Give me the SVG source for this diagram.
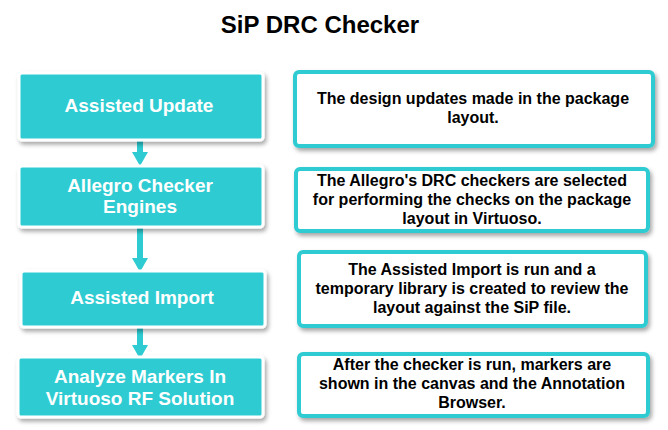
<svg xmlns="http://www.w3.org/2000/svg" width="668" height="430" viewBox="0 0 668 430">
<defs>
<filter id="sh" x="-10%" y="-20%" width="120%" height="150%">
<feDropShadow dx="2" dy="3" stdDeviation="2" flood-color="#000" flood-opacity="0.35"/>
</filter>
</defs>
<style>
.step{fill:#2ECCD2;stroke:#fff;stroke-width:3;filter:url(#sh)}
.desc{fill:#fff;stroke:#2ECCD2;stroke-width:4;filter:url(#sh)}
.st{font-family:"Liberation Sans",Arial,sans-serif;font-weight:bold;font-size:19px;fill:#fff;text-anchor:middle}
.dt{font-family:"Liberation Sans",Arial,sans-serif;font-weight:bold;font-size:16px;fill:#000;text-anchor:middle}
.title{font-family:"Liberation Sans",Arial,sans-serif;font-weight:bold;font-size:24px;fill:#000;text-anchor:middle}
.conn{stroke:#2ECCD2;stroke-width:6;fill:none}
.head{fill:#2ECCD2}
</style>
<rect width="668" height="430" fill="#fff"/>
<text class="title" x="320" y="33">SiP DRC Checker</text>
<g id="connectors">
<path class="conn" d="M140,140 V153"/>
<path class="head" d="M132,152 L148,152 L140,166 Z"/>
<path class="conn" d="M140,227 V259"/>
<path class="head" d="M132,258 L148,258 L140,272 Z"/>
<path class="conn" d="M140,327 V346"/>
<path class="head" d="M132,345 L148,345 L140,359 Z"/>
</g>
<g id="step1">
<rect class="step" x="19" y="73" width="244" height="67" rx="3"/>
<text class="st" x="139" y="112">Assisted Update</text>
</g>
<g id="step2">
<rect class="step" x="19" y="166" width="244" height="61" rx="3"/>
<text class="st" x="140" y="192">Allegro Checker</text>
<text class="st" x="140" y="213">Engines</text>
</g>
<g id="step3">
<rect class="step" x="21" y="271" width="244" height="56" rx="3"/>
<text class="st" x="142" y="304">Assisted Import</text>
</g>
<g id="step4">
<rect class="step" x="18" y="357" width="245" height="60" rx="3"/>
<text class="st" x="140" y="383">Analyze Markers In</text>
<text class="st" x="140" y="405">Virtuoso RF Solution</text>
</g>
<g id="desc1">
<rect class="desc" x="295" y="72" width="358" height="74" rx="4"/>
<text class="dt" x="473" y="104">The design updates made in the package</text>
<text class="dt" x="473" y="123">layout.</text>
</g>
<g id="desc2">
<rect class="desc" x="296" y="169" width="352" height="62" rx="4"/>
<text class="dt" x="472" y="186">The Allegro's DRC checkers are selected</text>
<text class="dt" x="472" y="205">for performing the checks on the package</text>
<text class="dt" x="472" y="224">layout in Virtuoso.</text>
</g>
<g id="desc3">
<rect class="desc" x="299" y="252" width="347" height="74" rx="4"/>
<text class="dt" x="472" y="275">The Assisted Import is run and a</text>
<text class="dt" x="472" y="294">temporary library is created to review the</text>
<text class="dt" x="472" y="313">layout against the SiP file.</text>
</g>
<g id="desc4">
<rect class="desc" x="299" y="354" width="349" height="62" rx="4"/>
<text class="dt" x="472" y="370">After the checker is run, markers are</text>
<text class="dt" x="472" y="389">shown in the canvas and the Annotation</text>
<text class="dt" x="472" y="408">Browser.</text>
</g>
</svg>
